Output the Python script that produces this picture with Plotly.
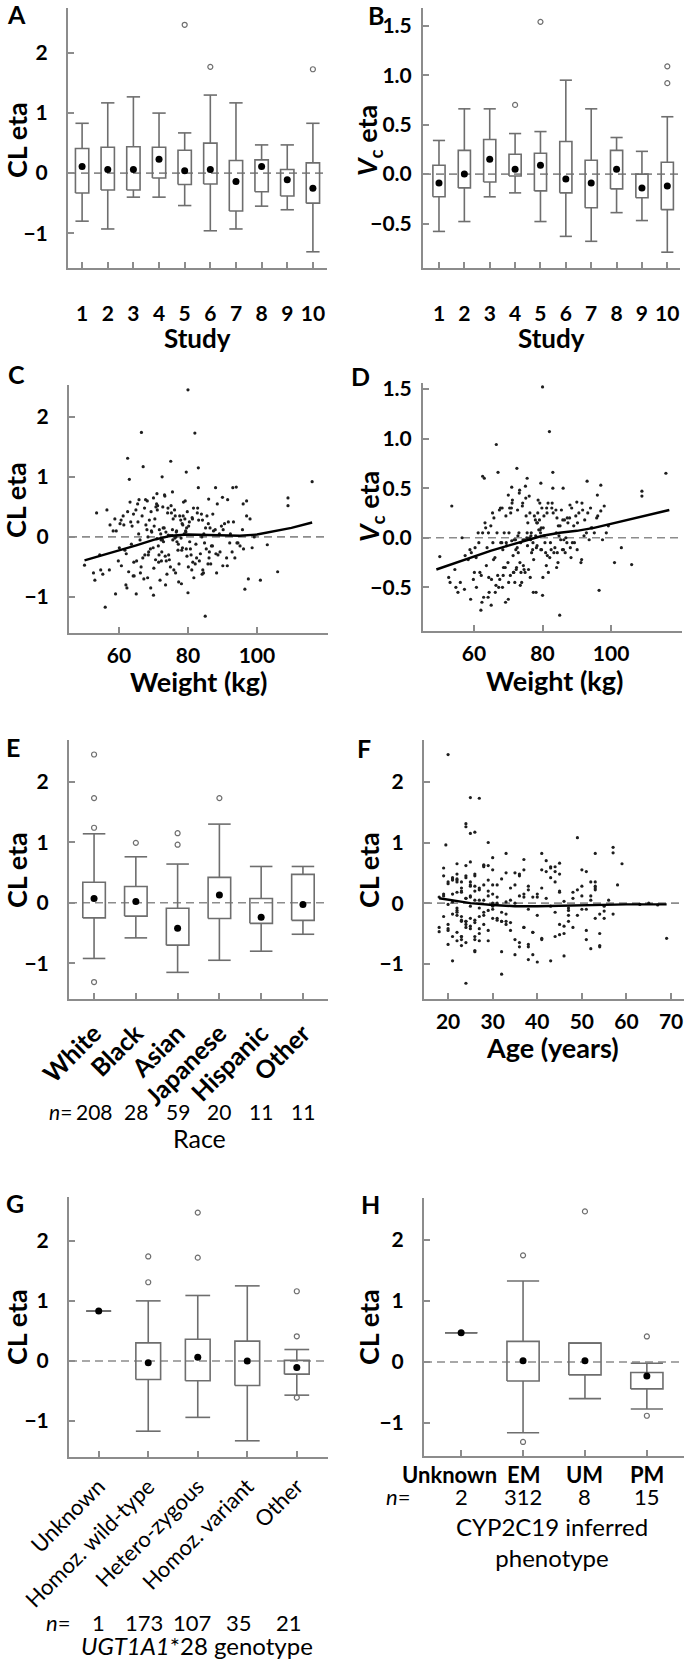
import plotly.graph_objects as go

W, H = 684, 1664
FONT = "Lato"
BOXC = "#6e6e6e"
AXC = "#8c8c8c"

# ---------------- data ----------------
study = [1, 2, 3, 4, 5, 6, 7, 8, 9, 10]

# A: CL eta by study
a_hi = [0.83, 1.17, 1.27, 1.00, 0.67, 1.30, 1.17, 0.47, 0.47, 0.83]
a_q3 = [0.41, 0.43, 0.44, 0.43, 0.38, 0.50, 0.21, 0.22, 0.06, 0.17]
a_q1 = [-0.33, -0.28, -0.28, -0.08, -0.19, -0.18, -0.63, -0.31, -0.38, -0.50]
a_lo = [-0.80, -0.93, -0.40, -0.40, -0.54, -0.96, -0.93, -0.55, -0.61, -1.31]
a_mid = [0.11, 0.06, 0.06, 0.23, 0.04, 0.06, -0.14, 0.11, -0.11, -0.25]
a_out_x = [5, 6, 10]
a_out_y = [2.47, 1.77, 1.73]

# B: Vc eta by study
b_hi = [0.34, 0.66, 0.66, 0.41, 0.43, 0.95, 0.66, 0.37, 0.23, 0.58]
b_q3 = [0.09, 0.24, 0.35, 0.20, 0.21, 0.33, 0.14, 0.24, 0.00, 0.12]
b_q1 = [-0.23, -0.14, -0.08, -0.02, -0.17, -0.19, -0.34, -0.15, -0.24, -0.36]
b_lo = [-0.58, -0.48, -0.23, -0.19, -0.48, -0.63, -0.68, -0.39, -0.47, -0.79]
b_mid = [-0.09, 0.00, 0.15, 0.05, 0.09, -0.05, -0.09, 0.05, -0.14, -0.12]
b_out_x = [4, 5, 10, 10]
b_out_y = [0.70, 1.54, 1.09, 0.92]

# individual subjects (C, D, F)
weight = [
    80, 66.5, 82, 62.5, 67, 75, 79.5, 83, 63, 72.5,
    116, 109, 109, 53.5, 56, 85, 59, 96.5, 106, 101,
    80, 103, 50, 53, 70, 65, 62, 93, 94, 88,
    83, 97, 96, 97, 98, 90, 86, 75.5, 71, 70,
    61.2, 64.3, 68.1, 72.4, 74.2, 76.8, 78.3, 81.1, 84.6, 87.2,
    60.1, 63.4, 66.2, 69.3, 71.6, 73.1, 77.4, 79.2, 82.3, 86.1,
    58.3, 62.1, 65.4, 67.2, 70.4, 72.2, 74.6, 76.1, 80.2, 85.3,
    89.1, 91.4, 93.2, 95.1, 57.2, 61.4, 64.1, 68.4, 71.2, 73.4,
    75.2, 77.1, 79.4, 81.4, 84.2, 88.3, 90.2, 92.1, 55.3, 59.2,
    63.2, 66.4, 69.1, 72.1, 74.4, 76.3, 78.1, 80.4, 83.3, 86.4,
    89.3, 94.2, 54.4, 60.3, 64.4, 67.4, 70.1, 73.3, 75.4, 78.4,
    81.2, 84.1, 87.4, 91.2, 96.1, 99.2, 57.4, 62.3, 65.1, 68.2,
    71.4, 74.1, 77.3, 79.1, 82.1, 85.1, 88.1, 92.3, 66.1, 69.4,
    72.3, 75.1, 78.2, 80.1, 83.1, 87.1, 64.2, 68.3, 71.1, 74.3,
    77.2, 81.3, 84.3, 73.2, 76.2, 79.3, 70.2, 72.6, 86.2, 90.1,
    62.5, 67.5, 73.5, 78.5, 82.5, 88.5, 94.5, 69.5, 76.5, 84.5,
    65.5, 71.5, 75.5, 79.5, 85.5, 91.5, 97.5, 56.5, 68.5, 80.5,
    63.8, 66.9, 70.7, 73.9, 76.6, 79.8, 83.6, 87.9, 60.7, 68.8,
    71.9, 74.8, 77.6, 80.9, 85.8, 90.6, 65.8, 69.9, 72.8, 75.9,
    78.9, 82.8, 86.8, 92.8, 58.8, 62.8, 67.8, 70.9, 73.7, 76.7,
    79.7, 83.9, 89.7, 95.8, 61.7, 64.9, 69.2, 72.9, 75.7, 78.7,
    81.7, 85.9, 54.7, 59.8, 66.7, 71.7, 74.9, 77.9, 80.7, 88.7,
    63.6, 67.7, 70.6, 73.6, 76.4, 79.6, 82.7, 86.6, 91.7, 98.6,
    68.6, 72.7, 75.6, 78.6, 81.6, 84.8, 60.6, 65.7, 93.6, 52.6,
    78, 84, 71,
]
age = [
    20, 25, 27, 24, 26, 24, 49, 25, 19.5, 29,
    57, 59, 51, 22, 32, 24, 21, 46, 69, 54,
    38, 55, 18, 36, 40, 43, 32, 53, 57, 41,
    33, 44, 50, 52, 58, 45, 28, 30, 37, 22,
    22, 25, 19, 31, 45, 27, 38, 23, 52, 29,
    21, 34, 26, 43, 24, 37, 20, 28, 47, 33,
    18, 26, 41, 23, 30, 55, 25, 36, 22, 49,
    27, 39, 53, 44, 21, 29, 24, 35, 42, 26,
    32, 23, 48, 20, 38, 51, 25, 30, 22, 40,
    19, 46, 28, 34, 24, 53, 26, 41, 37, 21,
    30, 50, 23, 27, 36, 22, 45, 25, 33, 54,
    20, 29, 39, 24, 47, 31, 26, 35, 18, 43,
    28, 21, 52, 25, 34, 40, 23, 56, 30, 37,
    24, 44, 19, 27, 50, 32, 22, 38, 26, 46,
    29, 35, 23, 42, 20, 31, 48, 25, 53, 39,
    21, 33, 26, 45, 28, 37, 51, 24, 30, 41,
    23, 27, 36, 22, 44, 29, 54, 19, 32, 47,
    23, 20, 35, 27, 42, 24, 31, 50, 22, 26,
    38, 21, 25, 47, 29, 53, 24, 33, 19, 44,
    26, 36, 22, 55, 28, 41, 23, 30, 48, 25,
    34, 21, 45, 52, 27, 24, 39, 22, 31, 43,
    20, 49, 26, 37, 23, 29, 54, 25, 40, 32,
    22, 28, 46, 24, 35, 30, 21, 51, 27, 57,
    25, 33, 43, 20, 26, 38, 53, 28, 45, 23,
    63, 65, 67,
]
cl_eta = [
    2.45, 1.74, 1.73, 1.31, 1.17, 1.26, 1.08, 1.15, 0.96, 1.00,
    0.92, 0.65, 0.52, 0.40, -1.17, -1.32, -0.95, -0.87, -0.58, -0.72,
    -0.93, -0.13, -0.47, -0.72, -0.97, -0.95, -0.80, 0.82, 0.83, 0.82,
    0.82, 0.60, 0.55, 0.35, 0.30, 0.66, 0.63, 0.75, 0.72, 0.65,
    0.35, -0.42, 0.12, -0.25, 0.48, -0.08, 0.22, -0.55, 0.05, 0.38,
    -0.18, 0.25, -0.60, 0.42, -0.30, 0.15, -0.45, 0.60, -0.12, -0.35,
    0.10, -0.28, 0.55, -0.70, 0.30, -0.05, -0.38, 0.45, 0.18, -0.20,
    0.05, -0.48, 0.25, -0.15, -0.55, 0.20, -0.65, 0.00, 0.52, -0.32,
    0.40, -0.22, 0.08, -0.42, 0.28, -0.60, 0.12, -0.10, -0.62, 0.10,
    0.58, -0.50, -0.20, 0.05, -0.30, 0.35, -0.78, 0.25, -0.40, 0.15,
    -0.25, -0.10, -0.30, 0.22, -0.65, 0.48, -0.52, 0.68, 0.02, -0.18,
    0.32, -0.62, 0.10, -0.35, -0.20, 0.00, 0.20, -0.85, -0.40, 0.60,
    -0.15, 0.40, -0.75, 0.30, -0.45, 0.15, -0.28, 0.05, -0.05, 0.10,
    -0.40, 0.52, -0.22, -0.50, 0.28, -0.15, 0.38, -0.68, 0.45, 0.03,
    -0.12, 0.30, -0.55, 0.70, -0.02, 0.10, 0.18, -0.05, -0.25, -0.48,
    0.42, -0.30, -0.80, 0.20, -0.35, 0.55, -0.10, 0.08, 0.00, -0.60,
    0.25, -0.42, 0.12, -0.20, 0.35, 0.62, -0.70, 0.45, -0.30, -0.08,
    0.18, -0.35, 0.50, -0.62, 0.08, 0.42, -0.28, 0.12, -0.48, 0.28,
    -0.72, 0.02, 0.35, -0.30, -0.45, 0.22, 0.62, -0.18, 0.15, -0.55,
    0.05, 0.48, -0.15, -0.25, 0.30, -0.58, 0.20, 0.55, -0.40, 0.10,
    -0.32, 0.38, 0.18, 0.12, -0.22, 0.45, -0.85, -0.08, 0.30, 0.58,
    -0.68, 0.22, -0.55, -0.40, 0.35, 0.12, -0.50, 0.28, -0.20, -0.30,
    -0.12, 0.62, -0.38, 0.08, -0.60, 0.15, 0.40, -0.45, 0.25, -0.18,
    -0.25, 0.50, -0.05, 0.35, 0.48, -0.10, 0.28, 0.05, -0.35, -0.60,
    -0.02, 0.00, -0.03,
]
vc_eta = [
    1.52, 0.94, 1.07, 0.62, 0.66, 0.52, 0.55, 0.66, 0.60, 0.70,
    0.65, 0.47, 0.42, 0.32, -0.45, -0.78, -0.62, -0.53, -0.27, -0.25,
    -0.58, -0.10, -0.19, -0.45, -0.62, -0.68, -0.73, 0.57, 0.30, 0.33,
    0.50, 0.53, 0.43, 0.27, 0.32, 0.36, 0.50, 0.60, 0.51, 0.43,
    0.05, -0.40, -0.05, -0.30, 0.35, -0.15, 0.15, -0.28, 0.12, 0.20,
    -0.35, 0.10, -0.55, 0.22, -0.35, 0.05, -0.22, 0.35, -0.05, -0.12,
    -0.22, -0.38, 0.25, -0.50, 0.30, -0.12, -0.32, 0.42, 0.10, -0.02,
    0.12, -0.22, 0.25, 0.05, -0.52, -0.05, -0.60, -0.12, 0.38, -0.25,
    0.22, -0.12, 0.05, -0.18, 0.20, -0.20, 0.15, 0.02, -0.55, -0.15,
    0.15, -0.48, -0.30, -0.02, -0.28, 0.25, -0.55, 0.22, -0.15, 0.18,
    -0.05, 0.10, -0.32, -0.10, -0.55, 0.28, -0.45, 0.48, 0.00, -0.08,
    0.30, -0.30, 0.15, -0.25, 0.22, 0.12, -0.18, -0.65, -0.42, 0.30,
    -0.18, 0.32, -0.55, 0.18, -0.20, 0.12, -0.10, 0.18, -0.20, -0.05,
    -0.32, 0.40, -0.10, -0.40, 0.25, -0.05, 0.05, -0.50, 0.35, -0.02,
    -0.05, 0.25, -0.15, 0.45, 0.00, 0.08, 0.05, -0.10, -0.02, -0.12,
    0.05, -0.42, -0.48, 0.15, -0.12, 0.30, 0.10, -0.08, -0.02, -0.25,
    -0.05, -0.35, 0.05, -0.12, 0.28, 0.35, -0.02, 0.00, -0.38, 0.02,
    -0.10, -0.38, 0.25, -0.45, 0.02, 0.30, -0.10, 0.20, -0.50, 0.05,
    -0.45, -0.02, 0.22, -0.15, -0.12, 0.25, 0.20, -0.25, 0.02, -0.32,
    0.08, 0.35, 0.00, 0.05, -0.12, -0.60, -0.05, 0.30, -0.35, 0.05,
    -0.12, 0.28, 0.22, 0.20, -0.35, 0.12, -0.65, -0.15, 0.15, 0.38,
    -0.35, 0.18, -0.50, -0.42, 0.05, -0.02, -0.35, 0.18, -0.05, -0.05,
    -0.28, 0.30, -0.38, -0.05, -0.40, 0.10, 0.30, -0.15, 0.28, 0.05,
    -0.30, 0.28, -0.08, 0.25, 0.35, 0.02, -0.20, -0.22, -0.02, -0.40,
    0.02, 0.05, -0.03,
]

# smooth lines
c_line_x = [50, 55, 60, 65, 70, 75, 80, 85, 90, 95, 100, 105, 110, 116]
c_line_y = [-0.39, -0.31, -0.23, -0.14, -0.05, 0.02, 0.04, 0.03, 0.02, 0.02, 0.04, 0.09, 0.15, 0.24]
d_line_x = [49, 55, 60, 65, 70, 75, 80, 85, 90, 95, 100, 105, 110, 117]
d_line_y = [-0.32, -0.25, -0.19, -0.13, -0.08, -0.03, 0.02, 0.05, 0.07, 0.10, 0.14, 0.18, 0.22, 0.28]
f_line_x = [18, 20, 22, 25, 30, 35, 40, 45, 50, 55, 60, 65, 69]
f_line_y = [0.08, 0.06, 0.03, 0.00, -0.03, -0.05, -0.05, -0.04, -0.03, -0.02, -0.02, -0.02, -0.02]

# E: race
race = ["White", "Black", "Asian", "Japanese", "Hispanic", "Other"]
race_n = [208, 28, 59, 20, 11, 11]
e_hi = [1.14, 0.76, 0.64, 1.30, 0.60, 0.60]
e_q3 = [0.34, 0.27, -0.09, 0.42, 0.07, 0.47]
e_q1 = [-0.25, -0.22, -0.70, -0.26, -0.34, -0.29]
e_lo = [-0.92, -0.58, -1.15, -0.95, -0.80, -0.52]
e_mid = [0.07, 0.02, -0.42, 0.13, -0.24, -0.03]
e_out_x = [0, 0, 0, 0, 1, 2, 2, 3]
e_out_y = [2.45, 1.73, 1.24, -1.31, 0.99, 1.15, 0.96, 1.73]

# G: UGT1A1*28 genotype
geno = ["Unknown", "Homoz. wild-type", "Hetero-zygous", "Homoz. variant", "Other"]
geno_n = [1, 173, 107, 35, 21]
g_hi = [0.83, 1.00, 1.09, 1.25, 0.19]
g_q3 = [0.83, 0.30, 0.36, 0.33, 0.01]
g_q1 = [0.83, -0.31, -0.33, -0.41, -0.22]
g_lo = [0.83, -1.17, -0.94, -1.33, -0.57]
g_mid = [0.83, -0.03, 0.06, 0.00, -0.11]
g_out_x = [1, 1, 2, 2, 4, 4, 4]
g_out_y = [1.74, 1.31, 2.47, 1.72, 1.16, 0.41, -0.61]

# H: CYP2C19 phenotype
pheno = ["Unknown", "EM", "UM", "PM"]
pheno_n = [2, 312, 8, 15]
h_hi = [0.48, 1.33, 0.31, -0.02]
h_q3 = [0.48, 0.34, 0.31, -0.17]
h_q1 = [0.48, -0.31, -0.21, -0.44]
h_lo = [0.48, -1.16, -0.60, -0.77]
h_mid = [0.48, 0.02, 0.02, -0.23]
h_out_x = [1, 1, 2, 3, 3]
h_out_y = [1.75, -1.31, 2.47, 0.42, -0.88]


# ---------------- helpers ----------------
def xdom(x0, x1):
    return [x0 / W, x1 / W]


def ydom(y0, y1):
    return [1 - y1 / H, 1 - y0 / H]


def axn(i):
    return ("x" if i == 1 else f"x{i}", "y" if i == 1 else f"y{i}")


fig = go.Figure()


def add_boxes(i, pos, q1, q3, lo, hi, mid, hw, out_x, out_y):
    xa, ya = axn(i)
    xs, ys = [], []
    for p, a, b, l, h in zip(pos, q1, q3, lo, hi):
        xs += [p - hw, p + hw, p + hw, p - hw, p - hw, None]
        ys += [a, a, b, b, a, None]
        xs += [p, p, None, p - hw, p + hw, None, p, p, None, p - hw, p + hw, None]
        ys += [b, h, None, h, h, None, a, l, None, l, l, None]
    fig.add_trace(go.Scatter(x=xs, y=ys, mode="lines", xaxis=xa, yaxis=ya,
                             line=dict(color=BOXC, width=1.6), hoverinfo="skip"))
    fig.add_trace(go.Scatter(x=out_x, y=out_y, mode="markers", xaxis=xa, yaxis=ya,
                             marker=dict(symbol="circle-open", size=5, color=BOXC,
                                         line=dict(width=1.2, color=BOXC))))
    fig.add_trace(go.Scatter(x=pos, y=mid, mode="markers", xaxis=xa, yaxis=ya,
                             marker=dict(size=7, color="black")))


def add_scatter(i, x, y, lx, ly):
    xa, ya = axn(i)
    fig.add_trace(go.Scatter(x=x, y=y, mode="markers", xaxis=xa, yaxis=ya,
                             marker=dict(size=3.2, color="#1e1e1e")))
    fig.add_trace(go.Scatter(x=lx, y=ly, mode="lines", xaxis=xa, yaxis=ya,
                             line=dict(color="black", width=2.4)))


add_boxes(1, study, a_q1, a_q3, a_lo, a_hi, a_mid, 0.26, a_out_x, a_out_y)
add_boxes(2, study, b_q1, b_q3, b_lo, b_hi, b_mid, 0.24, b_out_x, b_out_y)
add_scatter(3, weight, cl_eta, c_line_x, c_line_y)
add_scatter(4, weight, vc_eta, d_line_x, d_line_y)
add_boxes(5, list(range(len(race))), e_q1, e_q3, e_lo, e_hi, e_mid, 0.27, e_out_x, e_out_y)
add_scatter(6, age, cl_eta, f_line_x, f_line_y)
add_boxes(7, list(range(len(geno))), g_q1, g_q3, g_lo, g_hi, g_mid, 0.25, g_out_x, g_out_y)
add_boxes(8, list(range(len(pheno))), h_q1, h_q3, h_lo, h_hi, h_mid, 0.26, h_out_x, h_out_y)

# ---------------- axes ----------------
tick_font = dict(family=FONT, size=21, color="black", weight="bold")
base = dict(showline=True, linecolor=AXC, linewidth=2, ticks="inside", ticklen=6,
            tickwidth=1.5, tickcolor=AXC, showgrid=False, zeroline=False,
            tickfont=tick_font, ticklabeloverflow="allow", automargin=False)

# (x0, x1, y0, y1) in pixels, x range, y range
panels = {
    1: ((68, 327, 8, 268), [0.45, 10.55], [-1.58, 2.75]),
    2: ((423, 680, 8, 268), [0.37, 10.5], [-0.95, 1.68]),
    3: ((69, 328, 385, 633), [45.5, 120.6], [-1.6, 2.53]),
    4: ((423, 682, 383, 631), [45.1, 120.7], [-0.94, 1.56]),
    5: ((69, 328, 740, 999), [-0.6, 5.6], [-1.59, 2.69]),
    6: ((424, 684, 740, 999), [14.6, 72.9], [-1.58, 2.69]),
    7: ((69, 328, 1197, 1457), [-0.6, 4.63], [-1.6, 2.73]),
    8: ((424, 684, 1198, 1456), [-0.6, 3.6], [-1.54, 2.69]),
}

layout_axes = {}
for i, ((x0, x1, y0, y1), xr, yr) in panels.items():
    xk = "xaxis" if i == 1 else f"xaxis{i}"
    yk = "yaxis" if i == 1 else f"yaxis{i}"
    xa, ya = axn(i)
    layout_axes[xk] = dict(base, domain=xdom(x0, x1), range=xr, anchor=ya,
                           ticklabelstandoff=3)
    layout_axes[yk] = dict(base, domain=ydom(y0, y1), range=yr, anchor=xa,
                           ticklabelstandoff=14)

for k in ("xaxis", "xaxis2"):
    layout_axes[k].update(tickvals=study, ticklabelstandoff=26)
for k in ("yaxis", "yaxis3", "yaxis5", "yaxis6", "yaxis7", "yaxis8"):
    layout_axes[k].update(tickvals=[-1, 0, 1, 2])
for k in ("yaxis2", "yaxis4"):
    layout_axes[k].update(tickvals=[-0.5, 0, 0.5, 1.0, 1.5], tickformat=".1f",
                          ticklabelstandoff=5)
layout_axes["xaxis3"].update(tickvals=[60, 80, 100])
layout_axes["xaxis4"].update(tickvals=[60, 80, 100])
layout_axes["xaxis6"].update(tickvals=[20, 30, 40, 50, 60, 70])
layout_axes["xaxis5"].update(tickvals=list(range(len(race))), ticktext=race,
                             tickangle=-45, tickfont=dict(tick_font, size=25),
                             ticklabelstandoff=8)
layout_axes["xaxis7"].update(tickvals=list(range(len(geno))), ticktext=geno,
                             tickangle=-45, ticklabelstandoff=6,
                             tickfont=dict(family=FONT, size=22, color="black"))
layout_axes["xaxis8"].update(tickvals=list(range(len(pheno))), showticklabels=False)

# zero reference lines
shapes = []
for i in panels:
    xa, ya = axn(i)
    shapes.append(dict(type="line", xref=f"{xa} domain", yref=ya, x0=0, x1=1, y0=0, y1=0,
                       line=dict(color=AXC, width=1.6, dash="8px,5px"), layer="below"))

# ---------------- text ----------------
ann = []


def text(x, y, s, size=20, bold=True, angle=0, xanchor="center"):
    ann.append(dict(x=x / W, y=1 - y / H, xref="paper", yref="paper", text=s,
                    showarrow=False, textangle=angle, xanchor=xanchor, yanchor="middle",
                    font=dict(family=FONT, size=size, color="black",
                              weight="bold" if bold else "normal")))


for s, x, y in [("A", 16, 14), ("B", 376, 15), ("C", 16, 374), ("D", 360, 376),
                ("E", 13, 747), ("F", 364, 748), ("G", 15, 1203), ("H", 370, 1204)]:
    text(x, y, s, size=25)

text(16, 140, "CL eta", size=27, angle=-90)
text(369, 141, "<i>V</i><sub>c</sub> eta", size=27, angle=-90)
text(16, 500, "CL eta", size=27, angle=-90)
text(370, 507, "<i>V</i><sub>c</sub> eta", size=27, angle=-90)
text(16, 870, "CL eta", size=27, angle=-90)
text(368, 870, "CL eta", size=27, angle=-90)
text(16, 1327, "CL eta", size=27, angle=-90)
text(368, 1327, "CL eta", size=27, angle=-90)

text(197, 338, "Study", size=26)
text(551, 338, "Study", size=26)
text(198, 682, "Weight (kg)", size=27)
text(554, 680, "Weight (kg)", size=27)
text(552, 1047, "Age (years)", size=27)


# labels and n counts placed on the category axes
def cat_row(i, labels, y, size, bold=False, shifts=None):
    xa, _ = axn(i)
    for k, s in enumerate(labels):
        ann.append(dict(x=k, y=1 - y / H, xref=xa, yref="paper", text=str(s),
                        showarrow=False, yanchor="middle",
                        xshift=shifts[k] if shifts else 0,
                        font=dict(family=FONT, size=size, color="black",
                                  weight="bold" if bold else "normal")))


cat_row(5, race_n, 1111, 21)
text(74, 1111, "<i>n</i>=", size=21, bold=False, xanchor="right")
text(199, 1138, "Race", size=25, bold=False)

cat_row(7, geno_n, 1622, 22, shifts=[0, -4, -6, -8, -8])
text(72, 1622, "<i>n</i>=", size=22, bold=False, xanchor="right")
text(197, 1645, "<i>UGT1A1</i>*28 genotype", size=24, bold=False)

cat_row(8, pheno, 1474, 22, bold=True, shifts=[-12, 0, 0, 0])
cat_row(8, pheno_n, 1496, 22)
text(412, 1496, "<i>n</i>=", size=22, bold=False, xanchor="right")
text(552, 1542, "CYP2C19 inferred<br>phenotype", size=24, bold=False)

fig.update_traces(showlegend=False)
fig.update_layout(width=W, height=H, margin=dict(l=0, r=0, t=0, b=0),
                  paper_bgcolor="white", plot_bgcolor="white",
                  font=dict(family=FONT), shapes=shapes, annotations=ann,
                  **layout_axes)

fig.write_html("out.html", config={"displayModeBar": False},
               post_script="document.body.style.margin='0';")
